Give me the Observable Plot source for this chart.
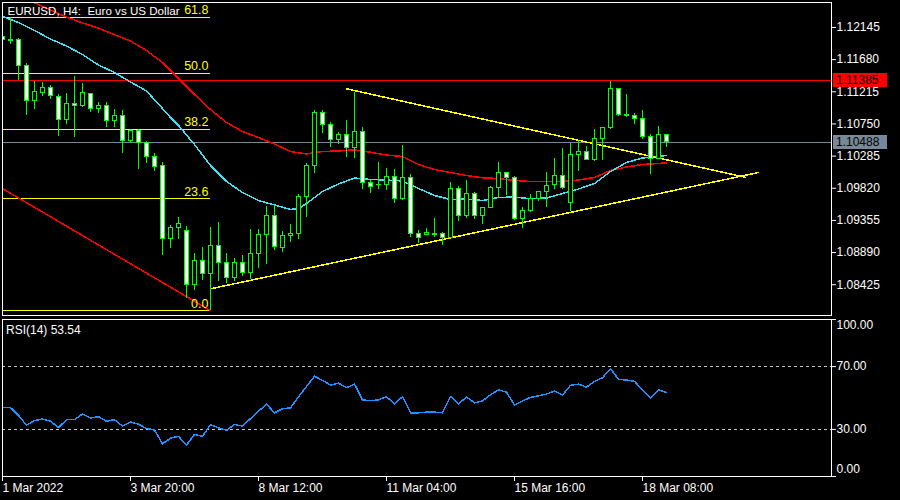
<!DOCTYPE html>
<html>
<head>
<meta charset="utf-8">
<script src="https://cdn.jsdelivr.net/npm/d3@7"></script>
<script src="https://cdn.jsdelivr.net/npm/@observablehq/plot@0.6"></script>
<style>
html, body { margin: 0; padding: 0; background: #000; }
#chart { width: 900px; height: 500px; background: #000; overflow: hidden; }
#chart svg { display: block; }
</style>
</head>
<body>
<div id="chart"></div>
<script>
// ---------- data ----------
const symbolTitle = "EURUSD, H4:  Euro vs US Dollar";

const opens = [1.12014,1.11949,1.11957,1.11595,1.11089,1.11200,1.11273,1.11137,1.10810,1.11041,
1.11007,1.11186,1.10963,1.11012,1.10790,1.10858,1.10500,1.10655,1.10477,1.10279,
1.10135,1.09083,1.09248,1.09209,1.08424,1.08775,1.08583,1.08978,1.08742,1.08525,
1.08742,1.08598,1.08872,1.09147,1.09422,1.08959,1.09133,1.09162,1.09691,1.10135,
1.10911,1.10738,1.10511,1.10583,1.10405,1.10631,1.09899,1.09860,1.09870,1.09980,
1.09668,1.09971,1.09162,1.09151,1.09151,1.09162,1.09104,1.09812,1.09416,1.09740,
1.09416,1.09537,1.09827,1.10044,1.09971,1.09373,1.09484,1.09668,1.09763,1.09860,
1.09994,1.09610,1.10304,1.10341,1.10232,1.10535,1.10694,1.11258,1.10872,1.10862,
1.10824,1.10558,1.10246,1.10583];
const highs = [1.12029,1.12294,1.11990,1.11620,1.11364,1.11345,1.11302,1.11171,1.11186,1.11436,
1.11331,1.11195,1.11060,1.11060,1.10959,1.10944,1.10670,1.10670,1.10500,1.10318,
1.10188,1.09282,1.09393,1.09271,1.08872,1.08968,1.09248,1.09329,1.08872,1.08809,
1.08843,1.09224,1.09224,1.09561,1.09571,1.09199,1.09296,1.09730,1.10174,1.10944,
1.10944,1.10767,1.10631,1.10800,1.11200,1.10694,1.09932,1.10188,1.10101,1.10091,
1.10438,1.10019,1.09209,1.09234,1.09378,1.09185,1.09899,1.09845,1.09932,1.09763,
1.09546,1.09845,1.10188,1.10050,1.09990,1.09537,1.09725,1.09773,1.10044,1.10246,
1.10391,1.10463,1.10511,1.10424,1.10665,1.10703,1.11364,1.11265,1.11176,1.10897,
1.10944,1.10597,1.10713,1.10590];
const lows = [1.11942,1.11894,1.11378,1.10872,1.10959,1.11151,1.11103,1.10573,1.10742,1.10558,
1.10992,1.10920,1.10897,1.10703,1.10703,1.10327,1.10463,1.10091,1.10174,1.10062,
1.08848,1.08945,1.09083,1.08230,1.08342,1.08486,1.08050,1.08472,1.08447,1.08476,
1.08544,1.08501,1.08655,1.08713,1.08920,1.08887,1.09040,1.09079,1.09402,1.10029,
1.10608,1.10405,1.10453,1.10260,1.10246,1.09798,1.09749,1.09798,1.09788,1.09595,
1.09643,1.09112,1.09017,1.09137,1.09104,1.08992,1.09089,1.09344,1.09387,1.09368,
1.09292,1.09523,1.09691,1.09715,1.09354,1.09243,1.09474,1.09633,1.09546,1.09802,
1.09802,1.09488,1.10067,1.10221,1.10211,1.10221,1.10665,1.10862,1.10848,1.10742,
1.10521,1.10019,1.10232,1.10414];
const closes = [1.11957,1.11964,1.11585,1.11089,1.11219,1.11273,1.11147,1.10814,1.11041,1.11007,
1.11200,1.10969,1.11012,1.10790,1.10858,1.10500,1.10641,1.10477,1.10269,1.10125,
1.09083,1.09248,1.09306,1.08424,1.08775,1.08583,1.08978,1.08742,1.08525,1.08742,
1.08598,1.08872,1.09147,1.09422,1.08968,1.09133,1.09162,1.09691,1.10135,1.10911,
1.10728,1.10511,1.10583,1.10405,1.10631,1.09899,1.09845,1.09874,1.09980,1.09668,
1.09971,1.09162,1.09104,1.09170,1.09162,1.09104,1.09812,1.09416,1.09740,1.09416,
1.09537,1.09827,1.10044,1.09971,1.09373,1.09484,1.09668,1.09763,1.09850,1.09994,
1.09827,1.10304,1.10341,1.10232,1.10535,1.10694,1.11258,1.10882,1.10882,1.10824,
1.10558,1.10246,1.10583,1.10488];

// moving averages (bar index, value)
const maFastBars = [0,2,4,6,8,10,12,14,16,18,20,21,22,24,26,28,30,32,34,36,37,38,40,42,44,46,48,50,52,54,56,58,60,62,64,66,68,70,72,74,76,78,80,82,83];
const maFast = [1.12304,1.12217,1.12101,1.11978,1.11877,1.11754,1.11602,1.11494,1.11357,1.11226,
1.10973,1.10843,1.10728,1.10453,1.10149,1.09918,1.09759,1.09643,1.09578,1.09513,
1.09527,1.09600,1.09773,1.09882,1.09968,1.09947,1.09939,1.09925,1.09817,1.09715,
1.09657,1.09665,1.09643,1.09686,1.09694,1.09668,1.09679,1.09744,1.09809,1.09889,
1.10062,1.10193,1.10258,1.10279,1.10294];
const maSlowBars = [4,6,8,10,12,14,16,18,20,22,24,26,28,30,32,34,36,38,40,42,44,46,48,50,52,54,56,58,60,62,64,66,68,70,72,74,76,78,80,82,83];
const maSlow = [1.12502,1.12398,1.12296,1.12210,1.12135,1.12043,1.11949,1.11812,1.11639,1.11407,
1.11176,1.10959,1.10771,1.10641,1.10554,1.10460,1.10352,1.10315,1.10352,1.10359,
1.10376,1.10341,1.10301,1.10279,1.10164,1.10091,1.10048,1.10005,1.09971,1.09961,
1.09932,1.09918,1.09918,1.09918,1.09939,1.09976,1.10077,1.10127,1.10164,1.10178,1.10188];

// Fibonacci retracement
const fibLevels = [0, 23.6, 38.2, 50.0, 61.8];
const fibAnchorBars = [-75, 26];
const fibAnchorPrices = [1.1491, 1.0805];

// triangle lines
const triUpperBars = [43, 92.8];
const triUpperPrices = [1.11258, 1.09980];
const triLowerBars = [26, 94.5];
const triLowerPrices = [1.08366, 1.10048];

// horizontal lines
const levelPrice = 1.11385;
const bidPrice = 1.10488;

// axes
const priceTicks = [1.12145, 1.11680, 1.11215, 1.10750, 1.10285, 1.09820, 1.09355, 1.08890, 1.08425];
const timeTickBars = [0, 16, 32, 48, 64, 80];
const timeTickLabels = ["1 Mar 2022", "3 Mar 20:00", "8 Mar 12:00", "11 Mar 04:00", "15 Mar 16:00", "18 Mar 08:00"];

// RSI(14)
const rsi = [43.9,43.9,38.9,32.7,35.6,36.6,35.2,31.2,36.2,36.2,
39.8,37.3,38.1,35.2,36.2,32.1,34.8,33.3,30.6,29.6,
20.8,24.4,25.6,20.0,26.9,25.6,33.1,31.0,29.4,33.1,
32.1,36.9,41.6,46.0,40.6,43.1,43.7,50.8,57.3,63.9,
61.2,58.3,59.4,56.6,58.8,48.8,48.3,48.8,50.8,46.3,
50.8,40.6,40.6,41.0,41.0,40.6,51.0,46.3,50.6,46.9,
48.1,52.1,55.2,53.7,45.6,48.1,50.4,51.4,52.5,54.4,
51.9,58.1,58.8,56.9,60.6,62.9,68.7,61.9,61.4,60.6,
55.2,50.0,55.2,53.54];
const rsiLevels = [30, 70];
const rsiTicks = [0, 30, 70, 100];

// ---------- styles ----------
const GREEN = "#00ff00", RED = "#ff0000", YELLOW = "#ffff00", CYAN = "#40e0f0", GREY = "#778899", BLUE = "#1e90ff";
const FONT = "'Liberation Sans', Arial, sans-serif";
const baseStyle = {background: "#000", color: "#fff", fontFamily: FONT, fontSize: "12px", overflow: "visible"};
const xDomain = [0, 103.625];
const xRange = [2, 831];
const crisp = {shapeRendering: "crispEdges"};

// ---------- derived tables ----------
const candles = opens.map((o, i) => ({i, o, h: highs[i], l: lows[i], c: closes[i]}));
const maFastRows = maFastBars.map((b, i) => ({b, v: maFast[i]}));
const maSlowRows = maSlowBars.map((b, i) => ({b, v: maSlow[i]}));
const fibRows = fibLevels.map(lv => ({
  level: lv,
  p: fibAnchorPrices[1] + lv / 100 * (fibAnchorPrices[0] - fibAnchorPrices[1]),
  x1: fibAnchorBars[0], x2: fibAnchorBars[1]
}));
const fibDiag = fibAnchorBars.map((b, i) => ({b, p: fibAnchorPrices[i]}));
const triUpper = triUpperBars.map((b, i) => ({b, p: triUpperPrices[i]}));
const triLower = triLowerBars.map((b, i) => ({b, p: triLowerPrices[i]}));
const rsiRows = rsi.map((v, i) => ({i, v}));
const timeLabel = new Map(timeTickBars.map((b, i) => [b, timeTickLabels[i]]));
const fmt5 = d3.format(".5f"), fmt2 = d3.format(".2f");

// ---------- main price panel ----------
const main = Plot.plot({
  width: 900, height: 318,
  marginLeft: 2, marginRight: 69, marginTop: 2, marginBottom: 3,
  style: baseStyle,
  x: {domain: xDomain, range: xRange, axis: null},
  y: {domain: [1.079946, 1.125061], range: [314, 2]},
  marks: [
    Plot.ruleY(fibRows, {y: "p", x1: "x1", x2: "x2", stroke: YELLOW, clip: true, ...crisp}),
    Plot.line(fibDiag, {x: "b", y: "p", stroke: RED, clip: true, ...crisp}),
    Plot.ruleY([levelPrice], {stroke: RED, ...crisp}),
    Plot.ruleY([bidPrice], {stroke: GREY, ...crisp}),
    Plot.line(maSlowRows, {x: "b", y: "v", stroke: RED, clip: true, ...crisp}),
    Plot.line(maFastRows, {x: "b", y: "v", stroke: CYAN, clip: true, ...crisp}),
    Plot.line(triUpper, {x: "b", y: "p", stroke: YELLOW, ...crisp}),
    Plot.line(triLower, {x: "b", y: "p", stroke: YELLOW, ...crisp}),
    Plot.ruleX(candles, {x: "i", y1: "l", y2: "h", stroke: GREEN, clip: true, ...crisp}),
    Plot.rect(candles, {
      x1: d => d.i - 0.25, x2: d => d.i + 0.25, y1: "o", y2: "c",
      fill: d => d.c < d.o ? "#ffffff" : "#000000", stroke: GREEN, clip: true, ...crisp
    }),
    Plot.text(fibRows, {
      x: "x2", y: "p", text: d => d.level.toFixed(1),
      textAnchor: "end", lineAnchor: "bottom", dx: -2, dy: -3, fill: YELLOW, fontSize: 12.5
    }),
    Plot.text([symbolTitle], {
      frameAnchor: "top-left", text: d => d.replace(/  /g, "\u00a0 "),
      textAnchor: "start", lineAnchor: "top", dx: 5, dy: 4.5, fill: "#fff", fontSize: 11.6
    }),
    Plot.axisY({anchor: "right", ticks: priceTicks, tickFormat: fmt5, tickSize: 4, tickPadding: 1, label: null}),
    Plot.frame({stroke: "#fff", ...crisp})
  ]
});

// price boxes on the right axis, placed with the plot's own y scale
const yScale = main.scale("y");
const msel = d3.select(main);
[[levelPrice, RED], [bidPrice, GREY]].forEach(([p, col]) => {
  const y = Math.round(yScale.apply(p));
  const g = msel.append("g");
  g.append("rect").attr("x", 833).attr("y", y - 7).attr("width", 54).attr("height", 14).attr("fill", col);
  g.append("text").attr("x", 836).attr("y", y).attr("dy", "0.36em").attr("text-anchor", "start")
    .attr("fill", "#000").attr("font-family", FONT).attr("font-size", 12).text(fmt5(p));
});

// ---------- RSI panel ----------
const rsiPlot = Plot.plot({
  width: 900, height: 182,
  marginLeft: 2, marginRight: 69, marginTop: 1, marginBottom: 24,
  style: baseStyle,
  x: {domain: xDomain, range: xRange},
  y: {domain: [0, 100]},
  marks: [
    Plot.ruleY(rsiLevels, {stroke: "#c8c8c8", strokeDasharray: "3,3", ...crisp}),
    Plot.line(rsiRows, {x: "i", y: "v", stroke: BLUE, ...crisp}),
    Plot.text([`RSI(14) ${fmt2(rsi[rsi.length - 1])}`], {
      frameAnchor: "top-left", textAnchor: "start", lineAnchor: "top", dx: 3.5, dy: 6, fill: "#fff"
    }),
    Plot.axisY({anchor: "right", ticks: rsiTicks, tickFormat: () => "", tickSize: 4, label: null}),
    Plot.text(rsiLevels, {y: d => d, text: d => fmt2(d), frameAnchor: "right", textAnchor: "start", dx: 5, fill: "#fff"}),
    Plot.text([100], {y: d => d, text: d => fmt2(d), frameAnchor: "right", textAnchor: "start", dx: 5, dy: 6, fill: "#fff"}),
    Plot.text([0], {y: d => d, text: d => fmt2(d), frameAnchor: "right", textAnchor: "start", dx: 5, dy: -7, fill: "#fff"}),
    Plot.axisX({anchor: "bottom", ticks: timeTickBars, tickFormat: d => timeLabel.get(d), textAnchor: "start", tickSize: 5, tickPadding: 2, label: null}),
    Plot.frame({stroke: "#fff", ...crisp})
  ]
});

const chart = document.getElementById("chart");
chart.appendChild(main);
chart.appendChild(rsiPlot);
</script>
</body>
</html>
